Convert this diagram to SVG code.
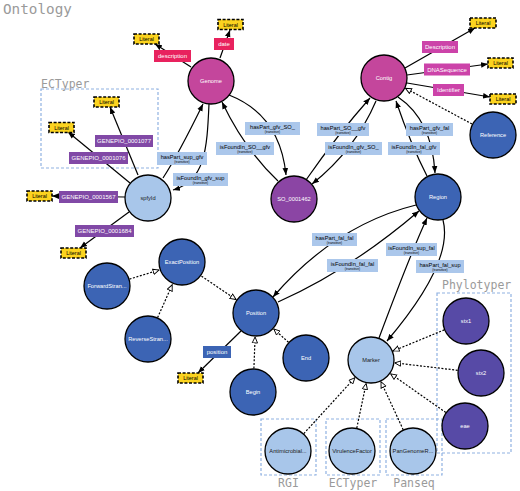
<svg xmlns="http://www.w3.org/2000/svg" width="520" height="491" viewBox="0 0 520 491">
<style>
.bg{fill:#fff}
.title{font-family:"DejaVu Sans Mono",monospace;fill:#9a9a9a}
.cluster{fill:none;stroke:#8fb1e2;stroke-width:1.2;stroke-dasharray:3 2}
.n{stroke:#000;stroke-width:1.3}
.mag{fill:#c4469c}
.pur{fill:#8b45a4}
.lb{fill:#a8c6ea}
.db{fill:#3c64b4}
.ind{fill:#574aa6}
.nt{font-family:"Liberation Sans",Arial,sans-serif;font-size:5.7px;text-anchor:middle;fill:#fff}
.ntd{font-family:"Liberation Sans",Arial,sans-serif;font-size:5.7px;text-anchor:middle;fill:#1a1a1a}
.lit{fill:#fbd31f;stroke:#000;stroke-width:1.6;stroke-dasharray:3 1.6}
.litt{font-family:"Liberation Sans",Arial,sans-serif;font-size:5.4px;text-anchor:middle;fill:#000}
.e{fill:none;stroke:#000;stroke-width:1.2}
.ea{marker-end:url(#arr)}
.s{fill:none;stroke:#000;stroke-width:1.2;stroke-dasharray:2 1.6;marker-end:url(#sub)}
.pk{fill:#e8225e}
.pm{fill:#cc43a9}
.pp{fill:#8149a6}
.pb{fill:#3c64b4}
.pt{font-family:"Liberation Sans",Arial,sans-serif;font-size:6px;text-anchor:middle;fill:#fff}
.el{fill:#abc7eb}
.et{font-family:"Liberation Sans",Arial,sans-serif;font-size:5.7px;text-anchor:middle;fill:#000}
.tr{font-family:"Liberation Sans",Arial,sans-serif;font-size:3.3px;text-anchor:middle;fill:#000}
</style>
<defs>
<marker id="arr" viewBox="0 0 10 10" refX="10" refY="5" markerWidth="7" markerHeight="7" orient="auto" markerUnits="userSpaceOnUse"><path d="M0,1 L10,5 L0,9 z" fill="#000"/></marker>
<marker id="sub" viewBox="0 0 10 10" refX="10" refY="5" markerWidth="7" markerHeight="7" orient="auto" markerUnits="userSpaceOnUse"><path d="M0.8,1.2 L9.3,5 L0.8,8.8 z" fill="#fff" stroke="#000" stroke-width="1.3"/></marker>
</defs>
<rect class="bg" x="0" y="0" width="520" height="491"/>
<text class="title" x="3" y="14" font-size="14.3">Ontology</text>

<g id="clusters">
<rect class="cluster" x="41" y="89" width="117" height="79"/>
<text class="title" x="41" y="87.5" font-size="11.5">ECTyper</text>
<rect class="cluster" x="437" y="293" width="74" height="160"/>
<text class="title" x="442" y="288.5" font-size="11.5">Phylotyper</text>
<rect class="cluster" x="261" y="419" width="55" height="56"/>
<text class="title" x="288.5" y="487" font-size="11.5" text-anchor="middle">RGI</text>
<rect class="cluster" x="326" y="419" width="54" height="56"/>
<text class="title" x="353" y="487" font-size="11.5" text-anchor="middle">ECTyper</text>
<rect class="cluster" x="386" y="419" width="56" height="56"/>
<text class="title" x="414" y="487" font-size="11.5" text-anchor="middle">Panseq</text>
</g>

<g id="connectors">
<!-- datatype properties -->
<path class="e ea" d="M191,67 L155,44"/>
<path class="e ea" d="M220,58 L230,30"/>
<path class="e ea" d="M405,68 L475,28"/>
<path class="e ea" d="M407,75 L488,64"/>
<path class="e ea" d="M407,83 L490,97"/>
<path class="e ea" d="M138,175 L110,107"/>
<path class="e ea" d="M130,183 L68,132"/>
<path class="e ea" d="M125,197 L52,196"/>
<path class="e ea" d="M129,212 L80,248"/>
<path class="e ea" d="M241,331 L198,373"/>
<!-- object properties -->
<path class="e ea" d="M163,178 Q178,155 203,104"/>
<path class="e ea" d="M209,104 C207,150 205,181 173,190"/>
<path class="e ea" d="M278,181 Q245,150 222,102"/>
<path class="e ea" d="M229,95 Q280,115 286,175"/>
<path class="e ea" d="M306,180 Q338,134 370,98"/>
<path class="e ea" d="M376,101 Q355,150 312,184"/>
<path class="e ea" d="M398,97 Q432,120 435,173"/>
<path class="e ea" d="M427,176 Q411,145 396,101"/>
<path class="e ea" d="M416,205 Q335,225 273,297"/>
<path class="e ea" d="M278,302 Q350,270 419,211"/>
<path class="e ea" d="M379,338 Q410,255 427,218"/>
<path class="e ea" d="M443,220 Q454,262 387,341"/>
<!-- subclass -->
<path class="s" d="M472,124 L405,88"/>
<path class="s" d="M201.5,276.2 L236.5,299.8"/>
<path class="s" d="M129.5,279.1 L159.5,269.9"/>
<path class="s" d="M157.6,317.6 L172.4,284.4"/>
<path class="s" d="M253.9,368.5 L255.1,336.5"/>
<path class="s" d="M288.5,342.3 L273.5,328.7"/>
<path class="s" d="M444.3,329.9 L392.7,351.1"/>
<path class="s" d="M457.7,370.3 L394.3,362.8"/>
<path class="s" d="M445.8,412.5 L390.2,373.5"/>
<path class="s" d="M303.8,433.6 L355.2,377.4"/>
<path class="s" d="M356.8,428 L366.2,383"/>
<path class="s" d="M403.2,429.7 L380.8,381.3"/>
</g>

<g id="property-labels">
<rect class="pk" x="154" y="50" width="37" height="12"/><text class="pt" x="172.5" y="58.2">description</text>
<rect class="pk" x="214" y="38" width="20" height="12"/><text class="pt" x="224" y="46.2">date</text>
<rect class="pm" x="422" y="41" width="36" height="12"/><text class="pt" x="440" y="49.2">Description</text>
<rect class="pm" x="424" y="63.5" width="46" height="12"/><text class="pt" x="447" y="71.7">DNASequence</text>
<rect class="pm" x="433" y="84" width="31" height="12"/><text class="pt" x="448.5" y="92.2">Identifier</text>
<rect class="pp" x="95" y="135" width="58" height="12"/><text class="pt" x="124" y="143.2">GENEPIO_0001077</text>
<rect class="pp" x="69" y="152" width="59" height="12"/><text class="pt" x="98.5" y="160.2">GENEPIO_0001076</text>
<rect class="pp" x="59" y="191" width="59" height="12"/><text class="pt" x="88.5" y="199.2">GENEPIO_0001567</text>
<rect class="pp" x="75" y="225" width="59" height="12"/><text class="pt" x="104.5" y="233.2">GENEPIO_0001684</text>
<rect class="pb" x="203" y="346" width="28" height="12"/><text class="pt" x="217" y="354.2">position</text>
</g>

<g id="edge-labels">
<g><rect class="el" x="157" y="152" width="50" height="13"/><text class="et" x="182" y="158.5">hasPart_sup_gfv</text><text class="tr" x="182" y="163">(transitive)</text></g>
<g><rect class="el" x="173" y="173" width="55" height="13"/><text class="et" x="200.5" y="179.5">isFoundIn_gfv_sup</text><text class="tr" x="200.5" y="184">(transitive)</text></g>
<g><rect class="el" x="216" y="142" width="58" height="13"/><text class="et" x="245" y="148.5">isFoundIn_SO__gfv</text><text class="tr" x="245" y="153">(transitive)</text></g>
<g><rect class="el" x="245" y="122" width="55" height="13"/><text class="et" x="272.5" y="128.5">hasPart_gfv_SO_</text><text class="tr" x="272.5" y="133">(transitive)</text></g>
<g><rect class="el" x="317" y="123" width="52" height="13"/><text class="et" x="343" y="129.5">hasPart_SO__gfv</text><text class="tr" x="343" y="134">(transitive)</text></g>
<g><rect class="el" x="325" y="142" width="57" height="13"/><text class="et" x="353.5" y="148.5">isFoundIn_gfv_SO_</text><text class="tr" x="353.5" y="153">(transitive)</text></g>
<g><rect class="el" x="406" y="123" width="47" height="13"/><text class="et" x="429.5" y="129.5">hasPart_gfv_fal</text><text class="tr" x="429.5" y="134">(transitive)</text></g>
<g><rect class="el" x="388" y="142" width="52" height="13"/><text class="et" x="414" y="148.5">isFoundIn_fal_gfv</text><text class="tr" x="414" y="153">(transitive)</text></g>
<g><rect class="el" x="312" y="233" width="45" height="13"/><text class="et" x="334.5" y="239.5">hasPart_fal_fal</text><text class="tr" x="334.5" y="244">(transitive)</text></g>
<g><rect class="el" x="327" y="259" width="51" height="13"/><text class="et" x="352.5" y="265.5">isFoundIn_fal_fal</text><text class="tr" x="352.5" y="270">(transitive)</text></g>
<g><rect class="el" x="386" y="243" width="51" height="13"/><text class="et" x="411.5" y="249.5">isFoundIn_sup_fal</text><text class="tr" x="411.5" y="254">(transitive)</text></g>
<g><rect class="el" x="416" y="260" width="48" height="13"/><text class="et" x="440" y="266.5">hasPart_fal_sup</text><text class="tr" x="440" y="271">(transitive)</text></g>
</g>

<g id="literals">
<g id="lit1"><rect class="lit" x="134" y="34" width="25" height="10"/><text class="litt" x="146.5" y="41">Literal</text></g>
<g id="lit2"><rect class="lit" x="218" y="19.5" width="25" height="10"/><text class="litt" x="230.5" y="26.5">Literal</text></g>
<g id="lit3"><rect class="lit" x="94" y="97" width="25" height="10"/><text class="litt" x="106.5" y="104">Literal</text></g>
<g id="lit4"><rect class="lit" x="49" y="122.5" width="25" height="10"/><text class="litt" x="61.5" y="129.5">Literal</text></g>
<g id="lit5"><rect class="lit" x="27" y="191" width="25" height="10"/><text class="litt" x="39.5" y="198">Literal</text></g>
<g id="lit6"><rect class="lit" x="61" y="248" width="25" height="10"/><text class="litt" x="73.5" y="255">Literal</text></g>
<g id="lit7"><rect class="lit" x="470" y="18" width="26" height="10"/><text class="litt" x="483" y="25">Literal</text></g>
<g id="lit8"><rect class="lit" x="488" y="58" width="25" height="10"/><text class="litt" x="500.5" y="65">Literal</text></g>
<g id="lit9"><rect class="lit" x="490" y="94" width="26" height="10"/><text class="litt" x="503" y="101">Literal</text></g>
<g id="lit10"><rect class="lit" x="178" y="373" width="25" height="10"/><text class="litt" x="190.5" y="380">Literal</text></g>
</g>

<g id="nodes">
<g id="Genome"><circle class="n mag" cx="211" cy="81" r="23"/><text class="nt" x="211" y="83">Genome</text></g>
<g id="Contig"><circle class="n mag" cx="384" cy="78" r="23"/><text class="nt" x="384" y="80">Contig</text></g>
<g id="Reference"><circle class="n db" cx="493" cy="135" r="23"/><text class="nt" x="493" y="137">Reference</text></g>
<g id="SO_0001462"><circle class="n pur" cx="294" cy="199" r="23"/><text class="nt" x="294" y="201">SO_0001462</text></g>
<g id="spfyId"><circle class="n lb" cx="148" cy="198" r="23"/><text class="ntd" x="148" y="200">spfyId</text></g>
<g id="Region"><circle class="n db" cx="438" cy="197" r="23"/><text class="nt" x="438" y="199">Region</text></g>
<g id="ExactPosition"><circle class="n db" cx="182" cy="262" r="23"/><text class="nt" x="182" y="264">ExactPosition</text></g>
<g id="ForwardStrand"><circle class="n db" cx="107" cy="286" r="23"/><text class="nt" x="107" y="288">ForwardStran...</text></g>
<g id="ReverseStrand"><circle class="n db" cx="148" cy="339" r="23"/><text class="nt" x="148" y="341">ReverseStran...</text></g>
<g id="Position"><circle class="n db" cx="256" cy="313" r="23"/><text class="nt" x="256" y="315">Position</text></g>
<g id="End"><circle class="n db" cx="306" cy="358" r="23"/><text class="nt" x="306" y="360">End</text></g>
<g id="Begin"><circle class="n db" cx="253" cy="392" r="23"/><text class="nt" x="253" y="394">Begin</text></g>
<g id="Marker"><circle class="n lb" cx="371" cy="360" r="23"/><text class="ntd" x="371" y="362">Marker</text></g>
<g id="stx1"><circle class="n ind" cx="466" cy="321" r="23"/><text class="nt" x="466" y="323">stx1</text></g>
<g id="stx2"><circle class="n ind" cx="481" cy="373" r="23"/><text class="nt" x="481" y="375">stx2</text></g>
<g id="eae"><circle class="n ind" cx="465" cy="426" r="23"/><text class="nt" x="465" y="428">eae</text></g>
<g id="Antimicrobial"><circle class="n lb" cx="288" cy="451" r="23"/><text class="ntd" x="288" y="453">Antimicrobial...</text></g>
<g id="VirulenceFactor"><circle class="n lb" cx="352" cy="451" r="23"/><text class="ntd" x="352" y="453">VirulenceFactor</text></g>
<g id="PanGenomeR"><circle class="n lb" cx="413" cy="451" r="23"/><text class="ntd" x="413" y="453">PanGenomeR...</text></g>
</g>
</svg>
